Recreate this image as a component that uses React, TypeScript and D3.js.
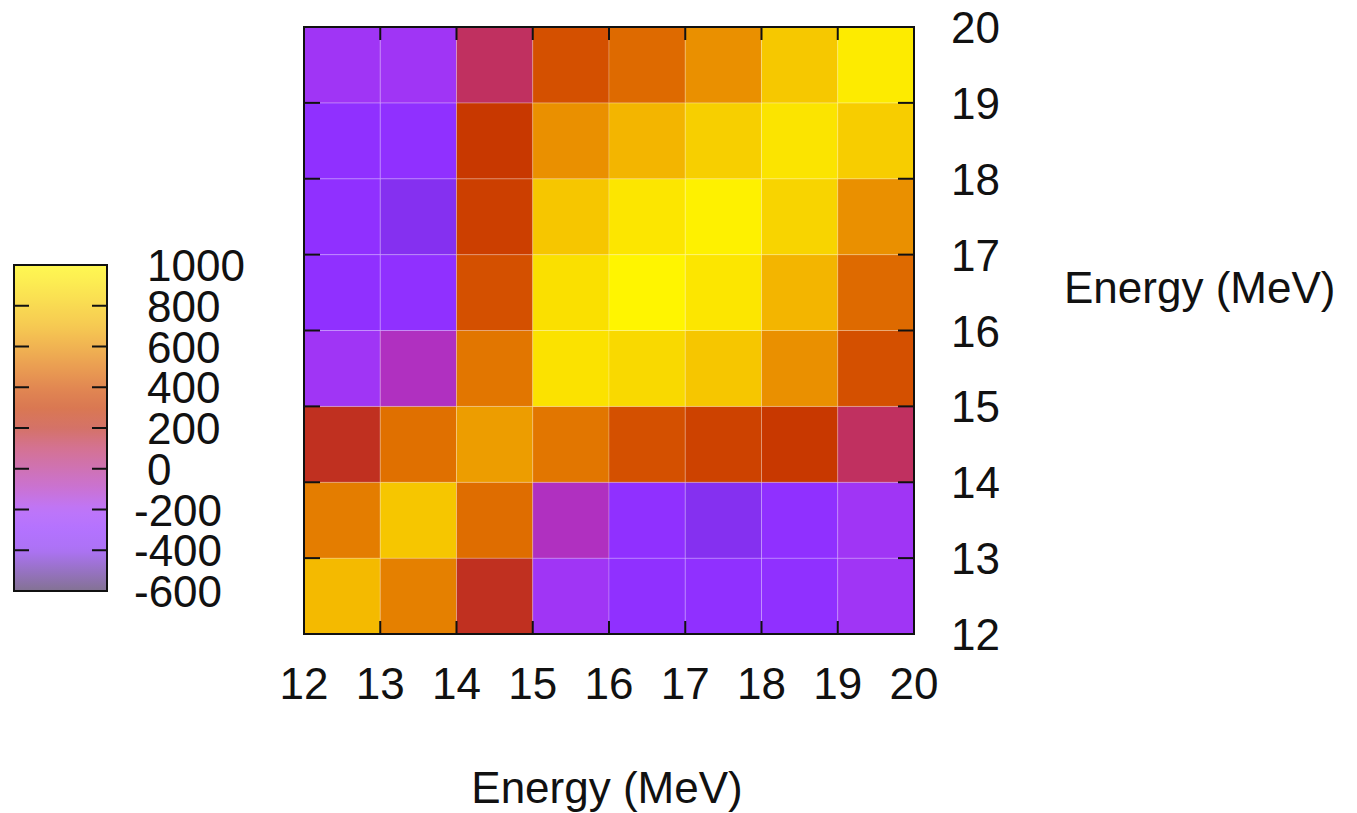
import React from 'react';
import * as d3 from 'd3';

// energy bins (lower edges), MeV
const xBins = [12, 13, 14, 15, 16, 17, 18, 19];
const yBins = [12, 13, 14, 15, 16, 17, 18, 19];
const axisTicks = [12, 13, 14, 15, 16, 17, 18, 19, 20];
const cbTicks = [-600, -400, -200, 0, 200, 400, 600, 800, 1000];

// covariance values, one row per y bin (bottom row first), columns x = 12..19
const row12 = [740, 550, 200, -200, -300, -300, -300, -200];
const row13 = [540, 790, 490, -100, -300, -400, -300, -200];
const row14 = [200, 500, 640, 520, 400, 340, 300, 100];
const row15 = [-200, -100, 520, 910, 870, 790, 600, 400];
const row16 = [-300, -300, 400, 900, 1000, 930, 720, 480];
const row17 = [-300, -400, 330, 790, 930, 980, 850, 600];
const row18 = [-300, -300, 300, 600, 720, 830, 920, 820];
const row19 = [-200, -200, 100, 400, 480, 600, 800, 950];
const rows = [row12, row13, row14, row15, row16, row17, row18, row19];

// palette stops
const palValues = [-600, -400, -300, -200, -100, 0, 100, 200, 300, 400, 500, 600, 700, 800, 900, 1000];
const palColors = ['#483060', '#8530f0', '#9030ff', '#a035f5', '#b030c0', '#b83090', '#c03060', '#c03020',
  '#c83800', '#d45000', '#e07000', '#ea9000', '#f2b000', '#f6c800', '#fae000', '#fff500'];

const FONT = '"Liberation Sans", Arial, Helvetica, sans-serif';
const FS = 44;

export default function App() {
  const left = 304, right = 914, top = 27, bottom = 634;
  const x = d3.scaleLinear().domain([12, 20]).range([left, right]);
  const y = d3.scaleLinear().domain([12, 20]).range([bottom, top]);
  const color = d3.scaleLinear<string>().domain(palValues).range(palColors).interpolate(d3.interpolateRgb).clamp(true);

  const cbX0 = 14, cbX1 = 107;
  const cb = d3.scaleLinear().domain([-600, 1000]).range([591, 265]);
  const gradStops = d3.range(0, 1.0001, 0.02);

  const cells = [];
  rows.forEach((r, j) => r.forEach((v, i) => cells.push({ x0: xBins[i], y0: yBins[j], v })));

  return (
    <svg width={1357} height={813} style={{ position: 'absolute', left: 0, top: 0, background: '#fff' }}
      fontFamily={FONT}>
      <defs>
        <linearGradient id="cbgrad" x1="0" y1="1" x2="0" y2="0">
          {gradStops.map(t => (
            <stop key={t} offset={t} stopColor={color(-600 + t * 1600)} />
          ))}
        </linearGradient>
      </defs>

      {/* heatmap cells */}
      {cells.map((c, k) => (
        <rect key={k} x={x(c.x0)} y={y(c.y0 + 1)} width={x(c.x0 + 1) - x(c.x0)} height={y(c.y0) - y(c.y0 + 1)}
          fill={color(c.v)} stroke="rgba(255,255,255,0.22)" strokeWidth={1} />
      ))}

      {/* frame + inward ticks */}
      <rect x={left} y={top} width={right - left} height={bottom - top} fill="none" stroke="#111" strokeWidth={2} />
      {axisTicks.map(t => (
        <g key={'t' + t} stroke="#111" strokeWidth={2}>
          <line x1={x(t)} x2={x(t)} y1={bottom} y2={bottom - 13} />
          <line x1={x(t)} x2={x(t)} y1={top} y2={top + 13} />
          <line x1={left} x2={left + 16} y1={y(t)} y2={y(t)} />
          <line x1={right} x2={right - 16} y1={y(t)} y2={y(t)} />
        </g>
      ))}
      {axisTicks.map(t => (
        <text key={'xl' + t} x={x(t)} y={699} fontSize={FS} textAnchor="middle" fill="#111">{t}</text>
      ))}
      {axisTicks.map(t => (
        <text key={'yl' + t} x={951} y={y(t) + 16} fontSize={FS} textAnchor="start" fill="#111">{t}</text>
      ))}
      <text x={607} y={803} fontSize={FS} textAnchor="middle" fill="#111">Energy (MeV)</text>
      <text x={1064} y={303} fontSize={FS} textAnchor="start" fill="#111">Energy (MeV)</text>

      {/* colour box */}
      <rect x={cbX0} y={cb(1000)} width={cbX1 - cbX0} height={cb(-600) - cb(1000)} fill="url(#cbgrad)" opacity={0.68} />
      <rect x={cbX0} y={cb(1000)} width={cbX1 - cbX0} height={cb(-600) - cb(1000)} fill="none" stroke="#111" strokeWidth={2} />
      {cbTicks.map(t => (
        <g key={'cb' + t} stroke="#111" strokeWidth={2}>
          <line x1={cbX0} x2={cbX0 + 15} y1={cb(t)} y2={cb(t)} />
          <line x1={cbX1} x2={cbX1 - 15} y1={cb(t)} y2={cb(t)} />
        </g>
      ))}
      {cbTicks.map(t => (
        <text key={'cbl' + t} x={t < 0 ? 134 : 147} y={cb(t) + 16} fontSize={FS} textAnchor="start" fill="#111">
          {t < 0 ? '-' + Math.abs(t) : t}
        </text>
      ))}
    </svg>
  );
}
